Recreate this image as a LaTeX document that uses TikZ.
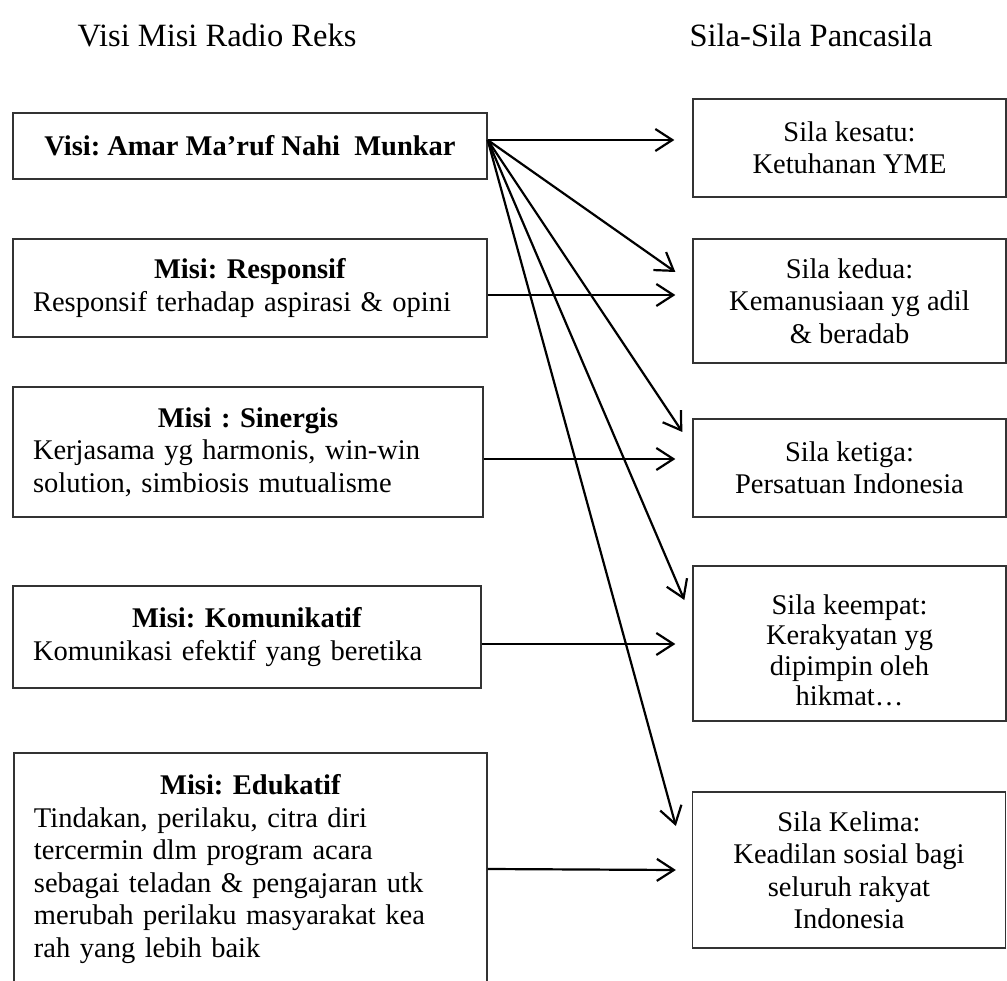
\documentclass[tikz,border=0pt]{standalone}
\usepackage{fontspec}
\setmainfont{Liberation Serif}
\usetikzlibrary{arrows.meta,calc}
\begin{document}
\begin{tikzpicture}[x=1pt,y=-1pt,
  every node/.style={font=\fontsize{28.5}{32.5}\selectfont\frenchspacing},
  box/.style={draw=black!80, line width=1.3pt, inner sep=0pt, rectangle},
  rbox/.style={box, minimum width=313pt, align=center},
  lbox/.style={box},
  heading/.style={inner sep=0pt, font=\fontsize{32.5}{36}\selectfont},
  link/.style={-{Straight Barb[length=17pt,width=22pt]}, line width=2.2pt}]
\useasboundingbox (0,0) rectangle (1007,981);
\clip (0,0) rectangle (1007,981);
% headings
\node[heading] (h1) at (217,35) {Visi Misi Radio Reks};
\node[heading] (h2) at (811,35) {Sila-Sila Pancasila};
% left boxes
\node[lbox, minimum width=474pt, minimum height=66pt] (visi) at (250,146)
  {\textbf{Visi: Amar Ma’ruf Nahi~ Munkar}};
\node[lbox, minimum width=474pt, minimum height=98pt, text width=434pt] (resp) at (250,288)
  {\centering\textbf{Misi: Responsif}\par\raggedright Responsif terhadap aspirasi \& opini};
\node[lbox, minimum width=470pt, minimum height=130pt, text width=430pt] (sin) at (248,452)
  {\centering\textbf{Misi : Sinergis}\par\raggedright Kerjasama yg harmonis, win-win\\solution, simbiosis mutualisme};
\node[lbox, minimum width=468pt, minimum height=102pt, text width=428pt] (kom) at (247,637)
  {\centering\textbf{Misi: Komunikatif}\par\raggedright Komunikasi efektif yang beretika};
\node[lbox, minimum width=473pt, minimum height=232pt, text width=433pt] (edu) at (250.5,869)
  {\centering\textbf{Misi: Edukatif}\par\raggedright Tindakan, perilaku, citra diri\\tercermin dlm program acara\\sebagai teladan \& pengajaran utk\\merubah perilaku masyarakat kea\\rah yang lebih baik};
% right boxes
\node[rbox, minimum height=98pt] (s1) at (849.5,148) {Sila kesatu:\\Ketuhanan YME};
\node[rbox, minimum height=124pt] (s2) at (849.5,301) {Sila kedua:\\Kemanusiaan yg adil\\\& beradab};
\node[rbox, minimum height=98pt] (s3) at (849.5,468) {Sila ketiga:\\Persatuan Indonesia};
\node[rbox, minimum height=155pt, font=\fontsize{28.5}{30.5}\selectfont] (s4) at (849.5,643.5)
  {\rule{0pt}{33pt}Sila keempat:\\Kerakyatan yg\\dipimpin oleh\\hikmat…};
\node[rbox, minimum height=156pt] (s5) at (849,870) {Sila Kelima:\\Keadilan sosial bagi\\seluruh rakyat\\Indonesia};
% connectors
\coordinate (vo) at ($(visi.east)+(0,-6)$);
\draw[link] (vo) -- ($(s1.west)+(-18,-8)$);
\draw[link] (vo) -- ($(s2.west)+(-17,-29)$);
\draw[link] (vo) -- ($(s3.west)+(-10,-36)$);
\draw[link] (vo) -- ($(s4.west)+(-8,-43.5)$);
\draw[link] (vo) -- ($(s5.west)+(-16,-44)$);
\draw[link] ($(resp.east)+(0,7)$) -- ($(s2.west)+(-17,-6)$);
\draw[link] ($(sin.east)+(0,7)$) -- ($(s3.west)+(-17,-9)$);
\draw[link] ($(kom.east)+(0,7)$) -- ($(s4.west)+(-17,0.5)$);
\draw[link] (edu.east) -- ($(s5.west)+(-16,0)$);
\end{tikzpicture}
\end{document}
